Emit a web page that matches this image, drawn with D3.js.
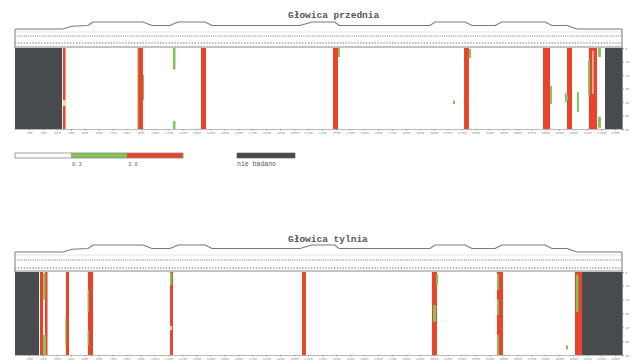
<!DOCTYPE html>
<html><head><meta charset="utf-8">
<script src="https://cdn.jsdelivr.net/npm/d3@7"></script>
<style>
body{margin:0;background:#fff}
text{font-family:"Liberation Mono","DejaVu Sans Mono",monospace}
</style>
</head><body>
<svg id="c" width="632" height="361"></svg>
<script>
// ---------- DATA ----------
const titles = ["Głowica przednia", "Głowica tylnia"];
// track position in metres, lateral position 0..60 (top -> bottom)
const xDomain = [0, 4350];
const xTicks = d3.range(100, 4350, 100);
const yTicks = [0, 10, 20, 30, 40, 50, 60];
// rail profile above each panel: position (m) and level (0 low .. 2 high)
const profileX =     [0, 344, 408, 523, 559, 917, 982, 1111, 1168, 1362, 1412, 2042, 2128, 2293, 2322, 2974, 3010, 3225, 3275, 3440, 3490, 3798, 3848, 3956, 4027, 4350];
const profileLevel = [0, 0,   0.8, 1,   2,   2,   1,   1,    2,    2,    1,    1,    2,    2,    1,    1,    2,    2,    1,    1,    2,    2,    1,    1,    0,    0];
// legend
const legendLabels = ["0.3", "3.0"];
const legendClasses = ["low", "green", "red"];
const notTestedLabel = "nie badano";

// front head (Głowica przednia)
const frontNotTested = [[0, 337], [4228, 4350]];
const frontRed = [[344, 362], [881, 917], [1333, 1369], [2279, 2315], [3218, 3253], [3784, 3834], [3956, 3992], [4113, 4171]];
const frontSpots = [
  [879, 887, 0, 60, "olive"],
  [917, 923, 20, 38.5, "olive"],
  [344, 362, 38.5, 43, "light"],
  [1132, 1150, 0, 16, "green"],
  [1132, 1150, 54, 60, "green"],
  [2315, 2329, 0, 6.7, "green"],
  [3253, 3268, 0.7, 7.4, "green"],
  [3834, 3848, 28, 41.5, "green"],
  [3941, 3952, 33, 40, "green"],
  [4027, 4041, 32.6, 47.4, "green"],
  [3139, 3153, 39, 41.5, "green"],
  [4178, 4199, 0, 6.7, "green"],
  [4178, 4199, 51, 59, "green"],
  [4106, 4121, 9, 35, "green"],
  [3948, 3963, 35, 38.5, "green"],
  [4136, 4146, 2, 34, "pink"]
];

// rear head (Głowica tylnia)
const rearNotTested = [[0, 172], [4063, 4350]];
const rearRed = [[179, 201], [215, 233], [365, 387], [523, 559], [1111, 1132], [2057, 2085], [2988, 3024], [3454, 3497], [4013, 4063]];
const rearSpots = [
  [201, 219, 0.7, 20, "green"],
  [201, 222, 45.5, 60, "green"],
  [362, 373, 33, 53, "olive"],
  [520, 530, 13, 29, "green"],
  [520, 530, 42, 53, "green"],
  [1111, 1125, 0.7, 9.4, "green"],
  [1111, 1125, 39, 42, "pink"],
  [3017, 3032, 1.4, 9.4, "green"],
  [2996, 3017, 24, 36, "green"],
  [3454, 3468, 1.4, 13, "green"],
  [3454, 3468, 20, 31, "green"],
  [3454, 3468, 45.5, 60, "green"],
  [4020, 4038, 2, 29, "green"],
  [3948, 3963, 53, 56, "green"]
];

// ---------- DRAWING ----------
const svg = d3.select("#c");
const color = d3.scaleOrdinal()
  .domain(["red", "green", "olive", "light", "pink", "none", "low"])
  .range(["#e8442b", "#86c25a", "#a08a34", "#f4e3a0", "#f7c9b9", "#474b4e", "#ffffff"]);
const x = d3.scaleLinear().domain(xDomain).range([15, 622]);

const panels = [
  {title: titles[0], titleY: 18, base: 29, rulerY: 36, dotY: 43, top: 48, bottom: 129,
   none: frontNotTested, red: frontRed, spots: frontSpots},
  {title: titles[1], titleY: 242, base: 252, rulerY: 260, dotY: 268, top: 272, bottom: 355,
   none: rearNotTested, red: rearRed, spots: rearSpots}
];

panels.forEach(p => {
  const g = svg.append("g");
  const y = d3.scaleLinear().domain([0, 60]).range([p.top, p.bottom]);
  const yP = d3.scaleLinear().domain([0, 2]).range([p.base, p.base - 7]);

  g.append("text").attr("x", 288).attr("y", p.titleY)
    .attr("font-size", 9.5).attr("font-weight", "bold").attr("fill", "#555")
    .text(p.title);

  g.append("line").attr("x1", x(xDomain[0])).attr("x2", x(xDomain[1]))
    .attr("y1", p.base + 3).attr("y2", p.base + 3).attr("stroke", "#e4e4e4");
  const pts = profileX.map((v, i) => [v, profileLevel[i]]);
  g.append("path").datum(pts)
    .attr("d", d3.line().x(d => x(d[0])).y(d => yP(d[1])))
    .attr("fill", "none").attr("stroke", "#7a7a7a").attr("stroke-width", 1.1);
  [xDomain[0], xDomain[1]].forEach(v => {
    g.append("line").attr("x1", x(v)).attr("x2", x(v))
      .attr("y1", yP(0)).attr("y2", p.top).attr("stroke", "#7a7a7a");
  });
  g.append("line").attr("x1", x(xDomain[0])).attr("x2", x(xDomain[1]))
    .attr("y1", p.rulerY).attr("y2", p.rulerY)
    .attr("stroke", "#b0b0b0").attr("stroke-width", 1.6).attr("stroke-dasharray", "1.2,1");
  g.append("line").attr("x1", x(xDomain[0])).attr("x2", x(xDomain[1]))
    .attr("y1", p.dotY).attr("y2", p.dotY)
    .attr("stroke", "#999").attr("stroke-width", 1.4).attr("stroke-dasharray", "1.3,1.6");
  g.append("line").attr("x1", x(xDomain[0])).attr("x2", x(xDomain[1]))
    .attr("y1", p.top - 1).attr("y2", p.top - 1).attr("stroke", "#888");

  g.selectAll(".nt").data(p.none).join("rect")
    .attr("x", d => x(d[0])).attr("width", d => x(d[1]) - x(d[0]))
    .attr("y", y(0)).attr("height", y(60) - y(0)).attr("fill", color("none"));
  g.selectAll(".rd").data(p.red).join("rect")
    .attr("x", d => x(d[0])).attr("width", d => x(d[1]) - x(d[0]))
    .attr("y", y(0)).attr("height", y(60) - y(0)).attr("fill", color("red"));
  g.selectAll(".sp").data(p.spots).join("rect")
    .attr("x", d => x(d[0])).attr("width", d => x(d[1]) - x(d[0]))
    .attr("y", d => y(d[2])).attr("height", d => y(d[3]) - y(d[2]))
    .attr("fill", d => color(d[4]));

  const ax = g.append("g").attr("transform", `translate(0,${p.bottom})`)
    .call(d3.axisBottom(x).tickValues(xTicks).tickSize(1.5).tickPadding(1).tickFormat(d3.format("d")));
  ax.select(".domain").attr("stroke", "#bbb");
  ax.selectAll(".tick line").attr("stroke", "#999");
  ax.selectAll("text").attr("font-size", 3.5).attr("fill", "#999");

  const ay = g.append("g").attr("transform", `translate(${x(xDomain[1])},0)`)
    .call(d3.axisRight(y).tickValues(yTicks).tickSize(2).tickPadding(1));
  ay.select(".domain").attr("stroke", "#888");
  ay.selectAll(".tick line").attr("stroke", "#999");
  ay.selectAll("text").attr("font-size", 3.5).attr("fill", "#999");
});

// ---------- LEGEND ----------
const lg = svg.append("g");
const lb = d3.scaleBand().domain(legendClasses).range([15, 183]);
lg.selectAll("rect.seg").data(legendClasses).join("rect")
  .attr("x", d => lb(d)).attr("width", lb.bandwidth())
  .attr("y", 153).attr("height", 5).attr("fill", d => color(d));
lg.append("rect").attr("x", 15).attr("y", 153).attr("width", 168).attr("height", 5)
  .attr("fill", "none").attr("stroke", "#888").attr("stroke-width", 0.8);
lg.selectAll("text.lab").data(legendLabels).join("text")
  .attr("x", (d, i) => lb(legendClasses[i + 1]) + 1).attr("y", 166)
  .attr("font-size", 5.5).attr("fill", "#666").text(d => d);
lg.append("rect").attr("x", 237).attr("y", 153).attr("width", 58).attr("height", 5)
  .attr("fill", color("none")).attr("stroke", "#555").attr("stroke-width", 0.6);
lg.append("text").attr("x", 237).attr("y", 166).attr("font-size", 6.5)
  .attr("fill", "#555").text(notTestedLabel);
</script>
</body></html>
